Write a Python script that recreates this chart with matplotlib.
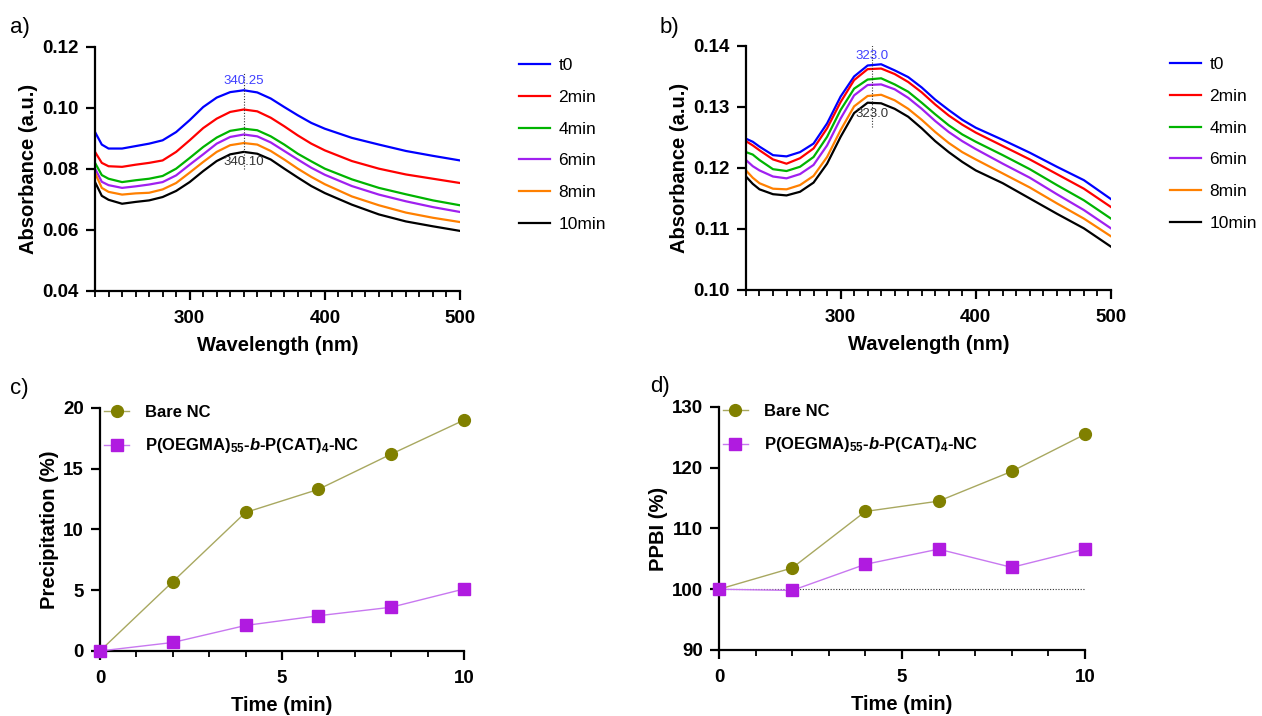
import numpy as np
import matplotlib
matplotlib.use('Agg')
import matplotlib.pyplot as plt
from matplotlib.ticker import MultipleLocator

plt.rcParams['font.family'] = ['Liberation Sans', 'DejaVu Sans']
plt.rcParams['mathtext.fontset'] = 'custom'
plt.rcParams['mathtext.rm'] = 'Liberation Sans:bold'
plt.rcParams['mathtext.bf'] = 'Liberation Sans:bold'
plt.rcParams['mathtext.it'] = 'Liberation Sans:bold:italic'

# ---- data ----
wl = [230, 235, 240, 250, 260, 270, 280, 290, 300, 310, 320, 330, 340, 350,
      360, 370, 380, 390, 400, 420, 440, 460, 480, 500]
series_labels = ['t0', '2min', '4min', '6min', '8min', '10min']
series_colors = ['#0000ff', '#ff0000', '#00b400', '#a020f0', '#ff8000', '#000000']

# panel a) absorbance
a_t0 = [0.0921, 0.0880, 0.0867, 0.0867, 0.0875, 0.0883, 0.0894, 0.0921, 0.0960, 0.1003, 0.1034, 0.1052,
        0.1058, 0.1051, 0.1031, 0.1003, 0.0976, 0.0951, 0.0932, 0.0902, 0.0880, 0.0859, 0.0843, 0.0828]
a_2 = [0.0856, 0.0820, 0.0809, 0.0807, 0.0814, 0.0820, 0.0828, 0.0856, 0.0894, 0.0934, 0.0965, 0.0987,
       0.0995, 0.0989, 0.0968, 0.0940, 0.0910, 0.0883, 0.0861, 0.0826, 0.0801, 0.0782, 0.0768, 0.0754]
a_4 = [0.0820, 0.0780, 0.0768, 0.0757, 0.0763, 0.0768, 0.0777, 0.0801, 0.0836, 0.0872, 0.0903, 0.0925,
       0.0932, 0.0927, 0.0907, 0.0880, 0.0850, 0.0825, 0.0801, 0.0766, 0.0738, 0.0717, 0.0697, 0.0681]
a_6 = [0.0801, 0.0758, 0.0747, 0.0738, 0.0743, 0.0749, 0.0757, 0.0779, 0.0814, 0.0848, 0.0883, 0.0905,
       0.0913, 0.0907, 0.0887, 0.0859, 0.0831, 0.0804, 0.0781, 0.0744, 0.0716, 0.0694, 0.0675, 0.0659]
a_8 = [0.0787, 0.0738, 0.0725, 0.0716, 0.0720, 0.0722, 0.0733, 0.0754, 0.0788, 0.0823, 0.0856, 0.0878,
       0.0885, 0.0880, 0.0859, 0.0831, 0.0801, 0.0774, 0.0750, 0.0710, 0.0681, 0.0657, 0.0640, 0.0626]
a_10 = [0.0757, 0.0712, 0.0699, 0.0686, 0.0692, 0.0697, 0.0708, 0.0728, 0.0757, 0.0793, 0.0826, 0.0848,
        0.0856, 0.0850, 0.0831, 0.0801, 0.0772, 0.0744, 0.0721, 0.0683, 0.0651, 0.0628, 0.0612, 0.0597]

# panel b) absorbance
b_t0 = [0.1248, 0.1243, 0.1235, 0.1221, 0.1219, 0.1226, 0.1240, 0.1273, 0.1317, 0.1350, 0.1368, 0.1370,
        0.1360, 0.1349, 0.1332, 0.1312, 0.1295, 0.1279, 0.1266, 0.1246, 0.1225, 0.1202, 0.1180, 0.1149]
b_2 = [0.1244, 0.1237, 0.1229, 0.1214, 0.1207, 0.1216, 0.1232, 0.1265, 0.1308, 0.1344, 0.1362, 0.1363,
       0.1354, 0.1341, 0.1324, 0.1304, 0.1286, 0.1271, 0.1258, 0.1236, 0.1214, 0.1190, 0.1166, 0.1136]
b_4 = [0.1226, 0.1222, 0.1213, 0.1198, 0.1195, 0.1202, 0.1218, 0.1251, 0.1295, 0.1330, 0.1345, 0.1347,
       0.1337, 0.1325, 0.1307, 0.1288, 0.1270, 0.1255, 0.1243, 0.1221, 0.1198, 0.1172, 0.1147, 0.1117]
b_6 = [0.1213, 0.1203, 0.1196, 0.1186, 0.1183, 0.1190, 0.1205, 0.1237, 0.1281, 0.1319, 0.1336, 0.1337,
       0.1329, 0.1315, 0.1297, 0.1277, 0.1259, 0.1244, 0.1231, 0.1207, 0.1184, 0.1157, 0.1131, 0.1101]
b_8 = [0.1196, 0.1184, 0.1175, 0.1166, 0.1165, 0.1172, 0.1187, 0.1218, 0.1262, 0.1301, 0.1318, 0.1320,
       0.1311, 0.1297, 0.1279, 0.1259, 0.1241, 0.1226, 0.1214, 0.1191, 0.1168, 0.1142, 0.1117, 0.1088]
b_10 = [0.1186, 0.1174, 0.1165, 0.1157, 0.1155, 0.1161, 0.1176, 0.1207, 0.1251, 0.1290, 0.1307, 0.1306,
        0.1297, 0.1284, 0.1265, 0.1244, 0.1226, 0.1210, 0.1196, 0.1175, 0.1150, 0.1125, 0.1101, 0.1071]

# panels c) and d)
time_min = [0, 2, 4, 6, 8, 10]
precip_bare = [0, 5.7, 11.4, 13.3, 16.2, 19.0]
precip_poly = [0, 0.7, 2.1, 2.9, 3.6, 5.1]
ppbi_bare = [100, 103.5, 112.8, 114.5, 119.4, 125.5]
ppbi_poly = [100, 99.8, 104.1, 106.6, 103.6, 106.6]

poly_label = r'P(OEGMA)$_{55}$-$\mathit{b}$-P(CAT)$_{4}$-NC'

fig = plt.figure(figsize=(12.62, 7.16), dpi=100)
ax_a = fig.add_axes([0.0753, 0.5936, 0.2892, 0.3408])
ax_b = fig.add_axes([0.5911, 0.5950, 0.2892, 0.3408])
ax_c = fig.add_axes([0.0792, 0.0908, 0.2884, 0.3394])
ax_d = fig.add_axes([0.5697, 0.0922, 0.2900, 0.3394])


def style_axes(ax):
    for s in ['top', 'right']:
        ax.spines[s].set_visible(False)
    for s in ['left', 'bottom']:
        ax.spines[s].set_linewidth(1.6)
    ax.tick_params(which='major', direction='out', length=6.5, width=1.6, labelsize=13.5, pad=5)
    ax.tick_params(axis='x', which='major', pad=7)
    ax.tick_params(which='minor', direction='out', length=4.5, width=1.3)
    for lab in ax.get_xticklabels() + ax.get_yticklabels():
        lab.set_fontweight('bold')


# spectra panels
for ax, data, ylim, yticks in [
        (ax_a, [a_t0, a_2, a_4, a_6, a_8, a_10], (0.04, 0.12), np.arange(0.04, 0.121, 0.02)),
        (ax_b, [b_t0, b_2, b_4, b_6, b_8, b_10], (0.10, 0.14), np.arange(0.10, 0.141, 0.01))]:
    for y, lab, col in zip(data, series_labels, series_colors):
        ax.plot(wl, y, color=col, lw=1.6, label=lab)
    ax.set_xlim(230, 500)
    ax.set_ylim(*ylim)
    ax.set_xticks([300, 400, 500])
    ax.xaxis.set_minor_locator(MultipleLocator(10))
    ax.set_yticks(yticks)
    ax.set_yticklabels([f'{v:.2f}' for v in yticks])
    ax.set_xlabel('Wavelength (nm)', fontsize=14.5, fontweight='bold', labelpad=7)
    ax.set_ylabel('Absorbance (a.u.)', fontsize=14.5, fontweight='bold', labelpad=3)
    style_axes(ax)
    ax.legend(loc='upper left', bbox_to_anchor=(1.12, 1.018), frameon=False, fontsize=12.5,
              handlelength=1.75, handletextpad=0.5, labelspacing=0.95)

# peak markers
ax_a.plot([340, 340], [0.0801, 0.1118], ls=(0, (1, 1.5)), color='#333333', lw=0.8)
ax_a.text(340, 0.1089, '340.25', color='#4040ff', fontsize=9.5, ha='center', va='center')
ax_a.text(340, 0.0822, '340.10', color='#333333', fontsize=9.5, ha='center', va='center')
ax_b.plot([323, 323], [0.1267, 0.1402], ls=(0, (1, 1.5)), color='#333333', lw=0.8)
ax_b.text(323, 0.1383, '323.0', color='#4040ff', fontsize=9.5, ha='center', va='center')
ax_b.text(323, 0.1289, '323.0', color='#333333', fontsize=9.5, ha='center', va='center')

# time-course panels
olive = '#808000'
olive_line = '#a8a860'
purple = '#b01be0'
purple_line = '#c878f0'
for ax, yb, yp, ylim, yticks, ylab in [
        (ax_c, precip_bare, precip_poly, (0, 20), [0, 5, 10, 15, 20], 'Precipitation (%)'),
        (ax_d, ppbi_bare, ppbi_poly, (90, 130), [90, 100, 110, 120, 130], 'PPBI (%)')]:
    if ax is ax_d:
        ax.plot([0, 10], [100, 100], ls=(0, (1, 1.5)), color='#333333', lw=0.8)
    ax.plot(time_min, yb, color=olive_line, lw=1.0, marker='o', ms=8.5, mfc=olive, mec=olive,
            label='Bare NC', clip_on=False, zorder=3)
    ax.plot(time_min, yp, color=purple_line, lw=1.0, marker='s', ms=8, mfc=purple, mec=purple,
            label=poly_label, clip_on=False, zorder=3)
    ax.set_xlim(0, 10)
    ax.set_ylim(*ylim)
    ax.set_xticks([0, 5, 10])
    ax.xaxis.set_minor_locator(MultipleLocator(1))
    ax.set_yticks(yticks)
    ax.set_xlabel('Time (min)', fontsize=14.5, fontweight='bold', labelpad=7)
    ax.set_ylabel(ylab, fontsize=14.5, fontweight='bold', labelpad=3)
    style_axes(ax)
    ax.legend(loc='upper left', bbox_to_anchor=(-0.03, 1.075), frameon=False,
              handlelength=1.5, handletextpad=0.95, labelspacing=1.0,
              prop={'size': 12, 'weight': 'bold'})

# panel letters
fig.text(0.008, 0.962, 'a)', fontsize=16, va='center')
fig.text(0.523, 0.962, 'b)', fontsize=16, va='center')
fig.text(0.008, 0.458, 'c)', fontsize=16, va='center')
fig.text(0.515, 0.460, 'd)', fontsize=16, va='center')

fig.savefig('out.png', dpi=100, facecolor='white')
